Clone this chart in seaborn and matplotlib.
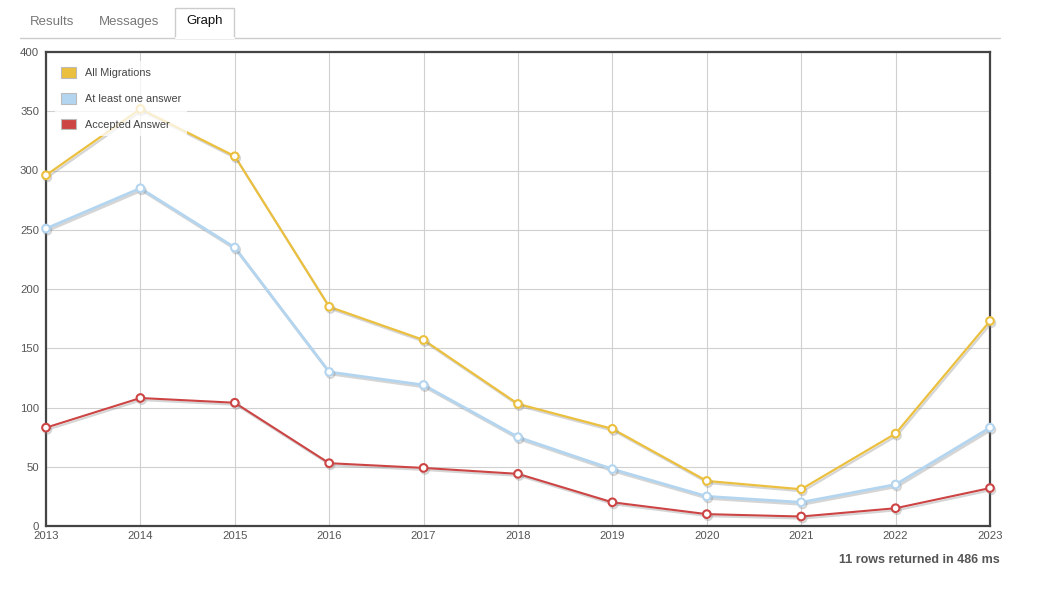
import matplotlib
matplotlib.use("Agg")
import matplotlib.pyplot as plt
import matplotlib.patheffects as pe
from matplotlib.patches import Patch, Rectangle
from matplotlib.lines import Line2D
import seaborn as sns
import pandas as pd

years = [2013, 2014, 2015, 2016, 2017, 2018, 2019, 2020, 2021, 2022, 2023]
all_migrations = [296, 352, 312, 185, 157, 103, 82, 38, 31, 78, 173]
at_least_one = [251, 285, 235, 130, 119, 75, 48, 25, 20, 35, 83]
accepted = [83, 108, 104, 53, 49, 44, 20, 10, 8, 15, 32]
series_names = ["All Migrations", "At least one answer", "Accepted Answer"]
series_colors = ["#EBC03F", "#B3D5EF", "#CC4444"]
yticks = [0, 50, 100, 150, 200, 250, 300, 350, 400]

sns.set_theme(style="white")
plt.rcParams["font.family"] = ["Liberation Sans", "DejaVu Sans"]

W, H = 1056, 589
fig = plt.figure(figsize=(W / 100, H / 100), dpi=100)
ax = fig.add_axes([46 / W, 1 - 526 / H, (990 - 46) / W, (526 - 52) / H])

df = pd.DataFrame({"year": years, "All Migrations": all_migrations,
                   "At least one answer": at_least_one, "Accepted Answer": accepted})

widths = [1.6, 2.0, 1.5]
for name, col, lw in zip(series_names, series_colors, widths):
    sns.lineplot(data=df, x="year", y=name, ax=ax, color=col, linewidth=lw,
                 marker="o", markersize=5.5, markerfacecolor="white",
                 markeredgecolor=col, markeredgewidth=1.5, clip_on=False, zorder=3,
                 path_effects=[pe.SimpleLineShadow(offset=(1, -1.5), shadow_color="#888888", alpha=0.35),
                               pe.Normal()])

ax.set_xlim(2013, 2023)
ax.set_ylim(0, 400)
ax.set_xticks(years)
ax.set_xticklabels([str(y) for y in years])
ax.set_yticks(yticks)
ax.set_xlabel("")
ax.set_ylabel("")
ax.grid(True, color="#d0d0d0", linewidth=0.8)
ax.set_axisbelow(True)
ax.tick_params(axis="both", length=0, labelsize=8.2, colors="#555555")
ax.tick_params(axis="x", pad=3.5)
ax.tick_params(axis="y", pad=5)
for sp in ax.spines.values():
    sp.set_visible(True)
    sp.set_color("#444444")
    sp.set_linewidth(1.6)

handles = [Patch(facecolor=c, edgecolor="#bbbbbb", linewidth=0.8) for c in series_colors]
leg = ax.legend(handles, series_names, loc="upper left", bbox_to_anchor=(0.004, 0.992),
                fontsize=7.8, frameon=True, handlelength=1.4, handleheight=1.15,
                labelspacing=1.35, handletextpad=0.8, borderpad=0.55, labelcolor="#444444")
leg.get_frame().set_facecolor("white")
leg.get_frame().set_alpha(0.75)
leg.get_frame().set_edgecolor("none")
leg.set_zorder(10)

# Tabs header
fig.add_artist(Line2D([20 / W, 1000 / W], [1 - 37.5 / H, 1 - 37.5 / H], color="#cccccc", linewidth=1))
fig.add_artist(Rectangle((175 / W, 1 - 38 / H), (234 - 175) / W, 30 / H, facecolor="white",
                         edgecolor="#cccccc", linewidth=1))
fig.add_artist(Line2D([175.5 / W, 233.5 / W], [1 - 37.5 / H, 1 - 37.5 / H], color="white", linewidth=1.5))
fig.text(52 / W, 1 - 22 / H, "Results", ha="center", va="center", fontsize=9.5, color="#777777")
fig.text(129 / W, 1 - 22 / H, "Messages", ha="center", va="center", fontsize=9.5, color="#777777")
fig.text(205 / W, 1 - 21 / H, "Graph", ha="center", va="center", fontsize=9.5, color="#111111")

fig.text(1000 / W, 1 - 560 / H, "11 rows returned in 486 ms", ha="right", va="center",
         fontsize=9, fontweight="bold", color="#555555")

fig.savefig("out.png", dpi=100, facecolor="white")
